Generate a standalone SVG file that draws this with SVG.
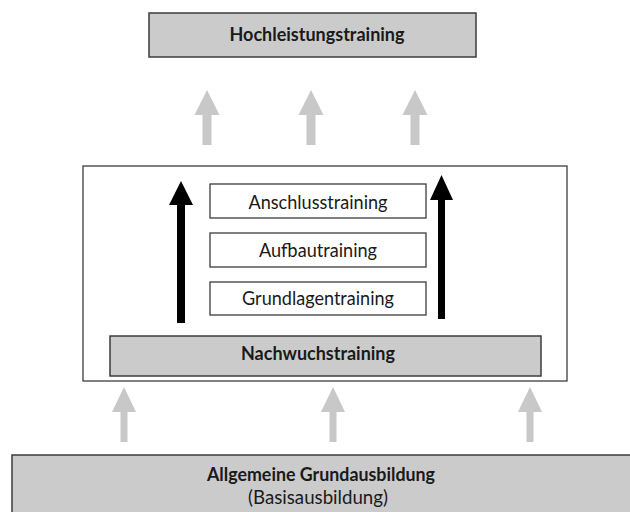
<svg xmlns="http://www.w3.org/2000/svg" width="630" height="512" viewBox="0 0 630 512">
<style>
.gbox{fill:#cbcbcb;stroke:#3c3c3c;stroke-width:1.5}
.wbox{fill:#ffffff;stroke:#3c3c3c;stroke-width:1.3}
.t{font-family:Lato,"Open Sans","Liberation Sans",sans-serif;font-size:18.5px;fill:#1a1a1a;text-anchor:middle}
.b{font-weight:bold}
.ga{fill:#c8c8c8}
.ba{fill:#000000}
</style>
<rect width="630" height="512" fill="#ffffff"/>
<g id="hochleistung">
<rect class="gbox" x="149" y="13" width="327" height="44"/>
<text class="t b" x="317" y="40.5" textLength="175" lengthAdjust="spacingAndGlyphs">Hochleistungstraining</text>
</g>
<g id="nachwuchs-rahmen">
<rect class="wbox" x="83" y="166" width="484" height="215"/>
</g>
<g id="anschluss">
<rect class="wbox" x="210" y="184" width="216" height="34"/>
<text class="t" x="318" y="208.5" textLength="139" lengthAdjust="spacingAndGlyphs">Anschlusstraining</text>
</g>
<g id="aufbau">
<rect class="wbox" x="210" y="233" width="216" height="34"/>
<text class="t" x="318" y="257" textLength="118" lengthAdjust="spacingAndGlyphs">Aufbautraining</text>
</g>
<g id="grundlagen">
<rect class="wbox" x="210" y="282" width="216" height="33"/>
<text class="t" x="318" y="305" textLength="152" lengthAdjust="spacingAndGlyphs">Grundlagentraining</text>
</g>
<g id="nachwuchs">
<rect class="gbox" x="110" y="336" width="431" height="40"/>
<text class="t b" x="318" y="359.5" textLength="154" lengthAdjust="spacingAndGlyphs">Nachwuchstraining</text>
</g>
<g id="grundausbildung">
<rect class="gbox" x="12" y="455" width="630" height="70"/>
<text class="t b" x="321" y="480.5" textLength="228" lengthAdjust="spacingAndGlyphs">Allgemeine Grundausbildung</text>
<text class="t" x="318" y="504" textLength="140" lengthAdjust="spacingAndGlyphs">(Basisausbildung)</text>
</g>
<g id="connectors">
<polygon class="ga" points="207,90 219.5,115 211.5,115 211.5,145 202.5,145 202.5,115 194.5,115"/>
<polygon class="ga" points="311,90 323.5,115 315.5,115 315.5,145 306.5,145 306.5,115 298.5,115"/>
<polygon class="ga" points="415,90 427.5,115 419.5,115 419.5,145 410.5,145 410.5,115 402.5,115"/>
<polygon class="ba" points="181,181 193,205 185,205 185,323 177,323 177,205 169,205"/>
<polygon class="ba" points="441.5,175 453,200 445,200 445,319 438,319 438,200 430,200"/>
<polygon class="ga" points="124,387 136,412 127.5,412 127.5,442 120.5,442 120.5,412 112,412"/>
<polygon class="ga" points="333,387 345,412 336.5,412 336.5,442 329.5,442 329.5,412 321,412"/>
<polygon class="ga" points="530,387 542,412 533.5,412 533.5,442 526.5,442 526.5,412 518,412"/>
</g>
</svg>
